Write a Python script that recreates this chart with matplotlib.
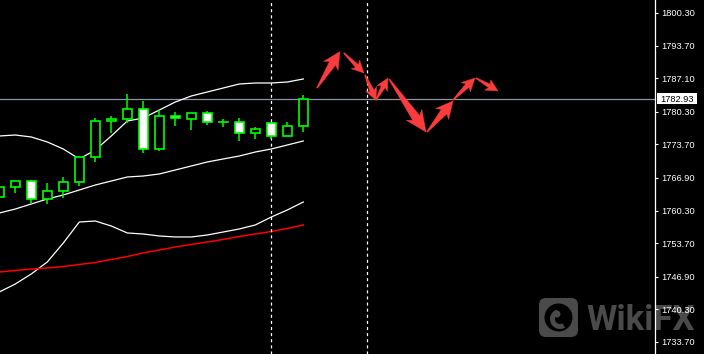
import matplotlib
matplotlib.use("Agg")
import matplotlib.pyplot as plt
import numpy as np
import matplotlib.transforms as mtransforms
from matplotlib.patches import Rectangle, Polygon, FancyBboxPatch, Circle, Wedge

plt.rcParams['lines.scale_dashes'] = False

# ---------------- data ----------------
opens  = [1763.05, 1765.08, 1766.29, 1762.65, 1764.27, 1766.09, 1771.15, 1778.44, 1778.84, 1780.87,
          1772.77, 1779.45, 1778.84, 1780.06, 1778.24, 1778.24, 1776.01, 1778.03, 1775.40, 1777.43]
highs  = [1765.70, 1766.29, 1766.40, 1765.89, 1767.10, 1771.30, 1779.04, 1779.45, 1783.90, 1782.49,
          1780.66, 1780.26, 1780.06, 1780.46, 1778.84, 1779.04, 1777.22, 1778.10, 1778.24, 1783.70]
lows   = [1762.40, 1763.86, 1761.64, 1761.64, 1762.85, 1765.28, 1770.14, 1776.01, 1778.03, 1771.96,
          1772.36, 1777.43, 1776.62, 1777.63, 1777.22, 1774.39, 1774.79, 1774.79, 1775.30, 1776.21]
closes = [1765.08, 1766.29, 1762.65, 1764.27, 1766.09, 1771.15, 1778.44, 1778.84, 1780.87, 1772.77,
          1779.45, 1779.04, 1780.06, 1778.24, 1778.24, 1776.01, 1776.82, 1775.40, 1777.43, 1782.93]

band_upper = [1775.40, 1775.60, 1775.20, 1774.19, 1772.77, 1770.75, 1772.57, 1775.40, 1778.44, 1779.04,
              1780.66, 1782.28, 1783.50, 1784.31, 1785.12, 1785.93, 1786.13, 1786.13, 1786.33, 1786.94]
band_middle = [1759.81, 1760.62, 1761.64, 1762.65, 1763.46, 1764.47, 1765.48, 1766.29, 1767.10, 1767.30,
               1767.71, 1768.52, 1769.33, 1770.14, 1770.75, 1771.35, 1772.16, 1772.77, 1773.58, 1774.39]
band_lower = [1743.82, 1745.44, 1747.47, 1749.90, 1753.74, 1757.99, 1758.19, 1757.18, 1755.77, 1755.56,
              1755.16, 1754.96, 1754.96, 1755.36, 1755.97, 1756.58, 1757.39, 1759.00, 1760.42, 1762.04]
ma_red = [1747.87, 1748.17, 1748.48, 1748.68, 1748.98, 1749.39, 1749.79, 1750.40, 1751.01, 1751.72,
          1752.32, 1752.93, 1753.44, 1753.94, 1754.45, 1755.06, 1755.56, 1756.07, 1756.68, 1757.39]

vlines_x = [17, 23]
current_price = 1782.93

tick_values = [1800.30, 1793.70, 1787.10, 1780.30, 1773.70, 1766.90, 1760.30, 1753.70, 1746.90, 1740.30, 1733.70]
tick_labels = ["1800.30", "1793.70", "1787.10", "1780.30", "1773.70", "1766.90", "1760.30", "1753.70",
               "1746.90", "1740.30", "1733.70"]

# forecast arrows (bar index, price)
arrow_x0 = [19.86, 21.54, 22.86, 23.54, 24.36, 26.73, 28.36, 29.79]
arrow_y0 = [1785.12, 1792.20, 1787.75, 1782.69, 1786.94, 1776.21, 1782.69, 1787.14]
arrow_x1 = [21.29, 22.79, 23.54, 24.29, 26.67, 28.36, 29.73, 31.17]
arrow_y1 = [1792.50, 1788.15, 1782.69, 1787.14, 1776.21, 1782.49, 1787.14, 1784.51]
# style: head length, head half width, shaft half width (pixels)
arrow_style = [(17, 8.5, 3.6), (12, 6, 2.0), (12, 6, 2.2), (12, 6, 2.2),
               (21, 9.5, 4.2), (17, 8.5, 3.6), (13, 6.5, 2.4), (12, 6, 2.0)]

# ---------------- figure ----------------
W, H = 704, 354
fig = plt.figure(figsize=(W / 100, H / 100), dpi=100, facecolor="black")
ax = fig.add_axes([0, 0, 655 / W, 1])
ax.set_facecolor("black")
ax.set_xlim(0.7 / 16, 655.7 / 16)
ax.set_ylim(1731.27, 1802.93)

GREEN = "#00ff00"
body_w = 0.6
for i in range(len(opens)):
    o, h, l, c = opens[i], highs[i], lows[i], closes[i]
    ax.plot([i, i], [l, h], color=GREEN, lw=1.1, zorder=3, solid_capstyle="butt")
    if abs(c - o) < 1e-9:
        ax.plot([i - body_w / 2, i + body_w / 2], [o, o], color=GREEN, lw=1.2, zorder=4)
    else:
        fc = "black" if c > o else "white"
        ax.add_patch(Rectangle((i - body_w / 2, min(o, c)), body_w, abs(c - o),
                               facecolor=fc, edgecolor=GREEN, lw=1.2, zorder=4))

xs = np.arange(len(band_upper))
ax.plot(xs, band_upper, color="white", lw=0.9, zorder=2)
ax.plot(xs, band_middle, color="white", lw=0.9, zorder=2)
ax.plot(xs, band_lower, color="white", lw=0.9, zorder=2)
ax.plot(xs, ma_red, color="#ff0000", lw=1.1, zorder=2)

for vx in vlines_x:
    ax.axvline(vx, color="white", lw=0.9, dashes=(2.2, 2.2), zorder=2)

ax.axhline(current_price, color="#8a94a3", lw=0.9, zorder=1.8)

# arrows
fig.canvas.draw()
inv = ax.transData.inverted()
for k in range(len(arrow_x0)):
    p0 = ax.transData.transform((arrow_x0[k], arrow_y0[k]))
    p1 = ax.transData.transform((arrow_x1[k], arrow_y1[k]))
    hl, hw, sw = arrow_style[k]
    d = p1 - p0
    L = np.hypot(*d)
    u = d / L
    n = np.array([-u[1], u[0]])
    base = p1 - u * hl
    join = p1 - u * hl * 0.82
    pts = [p0 + n * 0.5, join + n * sw, base + n * hw, p1, base - n * hw, join - n * sw, p0 - n * 0.5]
    pts = inv.transform(np.array(pts))
    ax.add_patch(Polygon(pts, closed=True, facecolor="#fa3c3c", edgecolor="#fa3c3c", lw=0.3, zorder=5))

# axes styling
for s in ["left", "top", "bottom"]:
    ax.spines[s].set_visible(False)
ax.spines["right"].set_color("white")
ax.spines["right"].set_linewidth(0.9)
ax.set_xticks([])
ax.yaxis.tick_right()
ax.set_yticks(tick_values)
ax.set_yticklabels(tick_labels, fontfamily="Liberation Sans")
ax.tick_params(axis="y", colors="white", length=2, width=0.8, pad=2.4, labelsize=6.7, direction="out")

# current price label
blend = mtransforms.blended_transform_factory(ax.transAxes, ax.transData)
ax.add_patch(Rectangle((656.7 / 655, current_price - 1.07), (697.3 - 656.7) / 655, 2.15,
                       transform=blend, facecolor="white", edgecolor="none", clip_on=False, zorder=6))
ax.annotate(f"{current_price:.2f}", xy=(660.7 / 655, current_price), xycoords=blend,
            xytext=(0, -2.5), textcoords="offset points", va="baseline", ha="left",
            color="black", fontsize=6.7, fontfamily="Liberation Sans", zorder=7, annotation_clip=False)

# watermark
ident = mtransforms.IdentityTransform()
wm = "#4a4a4a"
ax.add_artist(FancyBboxPatch((539, 17), 39, 39, boxstyle="round,pad=0,rounding_size=7",
                             transform=ident, facecolor=wm, edgecolor="none", clip_on=False, zorder=1))
ax.add_artist(Circle((558.5, 36.5), 14, transform=ident, facecolor="black", edgecolor="none",
                     clip_on=False, zorder=1.05))
ax.add_artist(Wedge((560, 35), 10, 110, 300, width=5, transform=ident, facecolor=wm, edgecolor="none",
                    clip_on=False, zorder=1.1))
ax.add_artist(Circle((557, 40), 3.5, transform=ident, facecolor=wm, edgecolor="none",
                     clip_on=False, zorder=1.1))
ax.text(586.7 / W, 24 / H, "WikiFX", transform=fig.transFigure, fontsize=25, fontweight="bold",
        fontfamily="Roboto", color=wm, ha="left", va="baseline", zorder=1, clip_on=False)

fig.savefig("out.png", dpi=100, facecolor="black")
